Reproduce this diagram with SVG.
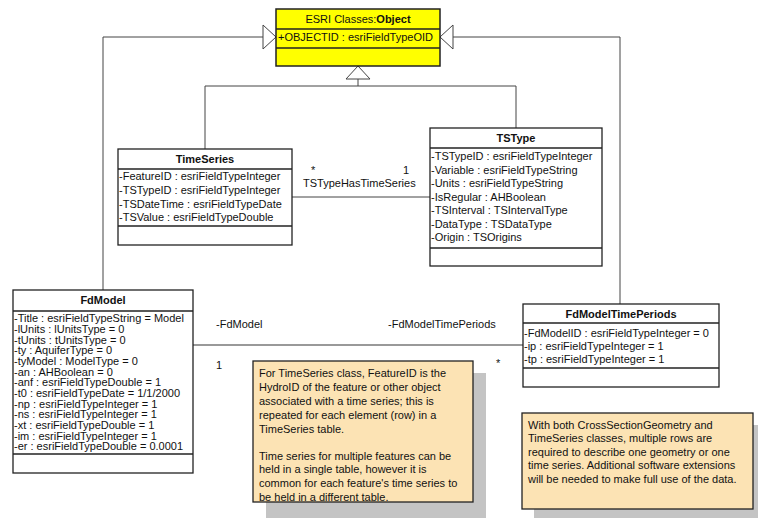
<svg xmlns="http://www.w3.org/2000/svg" width="758" height="518" viewBox="0 0 758 518">
<style>
.box{fill:#fff;stroke:#222;stroke-width:1.3}
.sep{stroke:#222;stroke-width:1.3}
.t{font-family:"Liberation Sans",Arial,sans-serif;font-size:11px;fill:#111}
.h{font-family:"Liberation Sans",Arial,sans-serif;font-size:11px;font-weight:bold;fill:#111;text-anchor:middle}
.n{font-family:"Liberation Sans",Arial,sans-serif;font-size:11px;fill:#111}
.c{fill:none;stroke:#444;stroke-width:1}
.tri{fill:#fff;stroke:#444;stroke-width:1}
.note{fill:#fce3b4;stroke:#222;stroke-width:1.3}
.shadow{fill:#c4c4c4}
</style>
<rect width="758" height="518" fill="#fff"/>
<g id="connectors">
  <polyline class="c" points="103,290 103,37 263,37"/>
  <polygon class="tri" points="263,25 276,37 263,49"/>
  <polyline class="c" points="620,304 620,37 453,37"/>
  <polygon class="tri" points="453,25 440,37 453,49"/>
  <polyline class="c" points="205,149 205,86 516,86 516,128"/>
  <line class="c" x1="358" y1="79" x2="358" y2="86"/>
  <polygon class="tri" points="346,79 358,66 370,79"/>
  <line class="c" x1="292" y1="197" x2="430" y2="197"/>
  <text class="n" x="303" y="187">TSTypeHasTimeSeries</text>
  <text class="n" x="311" y="174" font-size="9">*</text>
  <text class="n" x="403" y="174" font-size="9">1</text>
  <line x1="193" y1="345" x2="523" y2="345" stroke="#999" stroke-width="2"/>
  <text class="n" x="216" y="328">-FdModel</text>
  <text class="n" x="388" y="328">-FdModelTimePeriods</text>
  <text class="n" x="216" y="369">1</text>
  <text class="n" x="496" y="367" font-size="9">*</text>
</g>
<g id="Object">
  <rect x="276" y="9" width="164" height="57" fill="#ffff00" stroke="#222" stroke-width="1.5"/>
  <line class="sep" x1="276" y1="29" x2="440" y2="29"/>
  <line class="sep" x1="276" y1="48" x2="440" y2="48"/>
  <text class="n" x="358" y="23" text-anchor="middle">ESRI Classes:<tspan font-weight="bold">Object</tspan></text>
  <text class="t" x="278" y="41">+OBJECTID : esriFieldTypeOID</text>
</g>
<g id="TimeSeries">
  <rect class="box" x="118" y="149" width="174" height="96"/>
  <line class="sep" x1="118" y1="169" x2="292" y2="169"/>
  <line class="sep" x1="118" y1="226" x2="292" y2="226"/>
  <text class="h" x="205" y="163">TimeSeries</text>
  <text class="t" x="119" y="180">-FeatureID : esriFieldTypeInteger</text>
  <text class="t" x="119" y="194">-TSTypeID : esriFieldTypeInteger</text>
  <text class="t" x="119" y="208">-TSDateTime : esriFieldTypeDate</text>
  <text class="t" x="119" y="221">-TSValue : esriFieldTypeDouble</text>
</g>
<g id="TSType">
  <rect class="box" x="430" y="128" width="172" height="138"/>
  <line class="sep" x1="430" y1="148" x2="602" y2="148"/>
  <line class="sep" x1="430" y1="248" x2="602" y2="248"/>
  <text class="h" x="516" y="142">TSType</text>
  <text class="t" x="431" y="160">-TSTypeID : esriFieldTypeInteger</text>
  <text class="t" x="431" y="173.5">-Variable : esriFieldTypeString</text>
  <text class="t" x="431" y="187">-Units : esriFieldTypeString</text>
  <text class="t" x="431" y="200.5">-IsRegular : AHBoolean</text>
  <text class="t" x="431" y="214">-TSInterval : TSIntervalType</text>
  <text class="t" x="431" y="227.5">-DataType : TSDataType</text>
  <text class="t" x="431" y="241">-Origin : TSOrigins</text>
</g>
<g id="FdModel">
  <rect class="box" x="13" y="290" width="180" height="183"/>
  <line class="sep" x1="13" y1="311" x2="193" y2="311"/>
  <line class="sep" x1="13" y1="454" x2="193" y2="454"/>
  <text class="h" x="103" y="304">FdModel</text>
  <text class="t" x="14" y="322">-Title : esriFieldTypeString = Model</text>
  <text class="t" x="14" y="333">-lUnits : lUnitsType = 0</text>
  <text class="t" x="14" y="343.5">-tUnits : tUnitsType = 0</text>
  <text class="t" x="14" y="354">-ty : AquiferType = 0</text>
  <text class="t" x="14" y="365">-tyModel : ModelType = 0</text>
  <text class="t" x="14" y="375.5">-an : AHBoolean = 0</text>
  <text class="t" x="14" y="386">-anf : esriFieldTypeDouble = 1</text>
  <text class="t" x="14" y="397">-t0 : esriFieldTypeDate = 1/1/2000</text>
  <text class="t" x="14" y="407.5">-np : esriFieldTypeInteger = 1</text>
  <text class="t" x="14" y="418">-ns : esriFieldTypeInteger = 1</text>
  <text class="t" x="14" y="429">-xt : esriFieldTypeDouble = 1</text>
  <text class="t" x="14" y="439.5">-im : esriFieldTypeInteger = 1</text>
  <text class="t" x="14" y="450">-er : esriFieldTypeDouble = 0.0001</text>
</g>
<g id="FdModelTimePeriods">
  <rect class="box" x="523" y="304" width="196" height="83"/>
  <line class="sep" x1="523" y1="323" x2="719" y2="323"/>
  <line class="sep" x1="523" y1="368" x2="719" y2="368"/>
  <text class="h" x="621" y="318">FdModelTimePeriods</text>
  <text class="t" x="524" y="336.5">-FdModelID : esriFieldTypeInteger = 0</text>
  <text class="t" x="524" y="349.5">-ip : esriFieldTypeInteger = 1</text>
  <text class="t" x="524" y="363">-tp : esriFieldTypeInteger = 1</text>
</g>
<g id="note1">
  <rect class="shadow" x="266" y="373" width="220" height="145"/>
  <rect class="note" x="253" y="361" width="220" height="141"/>
  <text class="n" x="259" y="377">For TimeSeries class, FeatureID is the</text>
  <text class="n" x="259" y="390.5">HydroID of the feature or other object</text>
  <text class="n" x="259" y="404.5">associated with a  time series; this is</text>
  <text class="n" x="259" y="418.5">repeated for each element (row) in a</text>
  <text class="n" x="259" y="432.5">TimeSeries table.</text>
  <text class="n" x="259" y="460">Time series for multiple features can be</text>
  <text class="n" x="259" y="473">held in a single table, however it is</text>
  <text class="n" x="259" y="487">common for each feature's time series to</text>
  <text class="n" x="259" y="500.5">be held in a different table.</text>
</g>
<g id="note2">
  <rect class="shadow" x="534" y="425" width="224" height="93"/>
  <rect class="note" x="522" y="413" width="231" height="96"/>
  <text class="n" x="528" y="429">With both CrossSectionGeometry and</text>
  <text class="n" x="528" y="442">TimeSeries classes, multiple rows are</text>
  <text class="n" x="528" y="455.5">required to describe one geometry or one</text>
  <text class="n" x="528" y="469">time series. Additional software extensions</text>
  <text class="n" x="528" y="482.5">will be needed to make full use of the data.</text>
</g>
</svg>
